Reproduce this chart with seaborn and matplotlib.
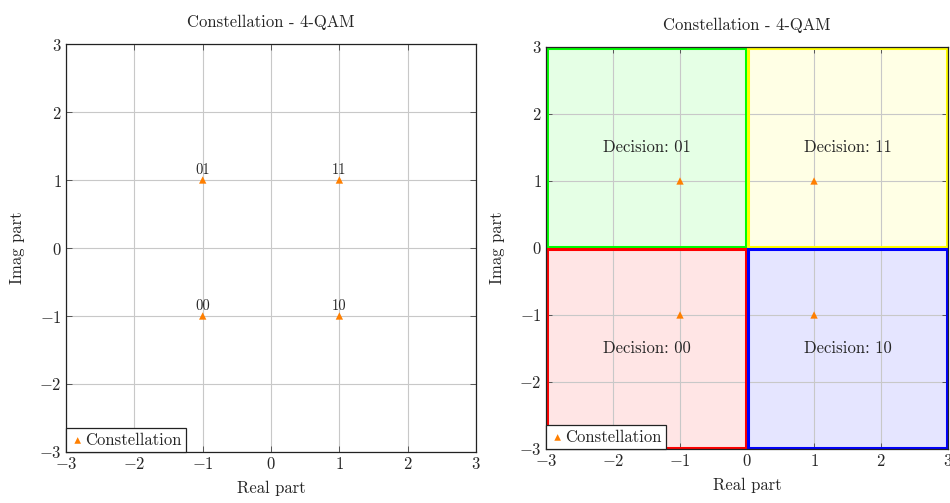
import numpy as np
import pandas as pd
import matplotlib
matplotlib.use("Agg")
import matplotlib.pyplot as plt
import seaborn as sns
from matplotlib.patches import Rectangle

# constellation points of 4-QAM
real_part = [-1, 1, -1, 1]
imag_part = [1, 1, -1, -1]
bit_labels = ["01", "11", "00", "10"]

# decision regions (lower-left corner, size 3x3)
region_x0 = [-3, 0, -3, 0]
region_y0 = [0, 0, -3, -3]
region_labels = ["Decision: 01", "Decision: 11", "Decision: 00", "Decision: 10"]
region_colors = ["#00ff00", "#ffff00", "#ff0000", "#0000ff"]
region_size = 3

axis_ticks = [-3, -2, -1, 0, 1, 2, 3]

sns.set_theme(style="white")
plt.rcParams["font.family"] = ["serif"]
plt.rcParams["font.serif"] = ["cmr10", "DejaVu Serif"]
plt.rcParams["mathtext.fontset"] = "cm"
plt.rcParams["axes.formatter.use_mathtext"] = True
plt.rcParams["axes.unicode_minus"] = True

df = pd.DataFrame({"re": real_part, "im": imag_part, "bits": bit_labels})

fig = plt.figure(figsize=(9.5, 5.03), dpi=100)
ax1 = fig.add_axes([0.0695, 0.1014, 0.4316, 0.8111])
ax2 = fig.add_axes([0.5747, 0.1074, 0.4233, 0.7992])

orange = "#ff7f00"
fs = 12


def style_axes(ax):
    ax.set_xlim(-3, 3)
    ax.set_ylim(-3, 3)
    ax.set_xticks(axis_ticks)
    ax.set_yticks(axis_ticks)
    ax.grid(True, color="#c8c8c8", linewidth=0.8, zorder=1)
    ax.set_axisbelow(False)
    ax.tick_params(direction="in", length=4, width=0.6, color="#444444",
                   labelsize=fs, top=True, right=True, bottom=True, left=True,
                   labeltop=False, labelright=False, pad=3)
    for s in ax.spines.values():
        s.set_color("#222222")
        s.set_linewidth(0.9)
        s.set_zorder(6)
    ax.set_xlabel("Real part", fontsize=fs, labelpad=6)
    ax.set_ylabel("Imag part", fontsize=fs, labelpad=10)
    ax.set_title("Constellation - 4-QAM", fontsize=fs, pad=12)


# left: plain constellation
sns.scatterplot(data=df, x="re", y="im", ax=ax1, marker="^", s=28,
                color=orange, edgecolor="none", label="Constellation", zorder=5)
for xv, yv, b in zip(real_part, imag_part, bit_labels):
    ax1.annotate(b, (xv, yv), xytext=(0, 2.5), textcoords="offset points",
                 ha="center", va="bottom", fontsize=10.5)
style_axes(ax1)

# right: with decision regions
inset = 0.02
for x0, y0, lab, col in zip(region_x0, region_y0, region_labels, region_colors):
    ax2.add_patch(Rectangle((x0, y0), region_size, region_size, facecolor=col,
                            alpha=0.1, edgecolor="none", zorder=0))
    ax2.add_patch(Rectangle((x0 + inset, y0 + inset), region_size - 2 * inset,
                            region_size - 2 * inset, facecolor="none",
                            edgecolor=col, linewidth=2.2, zorder=3))
    ax2.text(x0 + region_size / 2, y0 + region_size / 2, lab, ha="center",
             va="center", fontsize=fs, zorder=4)
sns.scatterplot(data=df, x="re", y="im", ax=ax2, marker="^", s=28,
                color=orange, edgecolor="none", label="Constellation", zorder=5)
style_axes(ax2)

for ax in (ax1, ax2):
    leg = ax.legend(loc="lower left", borderaxespad=0, fontsize=fs,
                    handletextpad=0.0, handlelength=0.9, markerscale=0.9,
                    fancybox=False, framealpha=1, borderpad=0.25)
    leg.get_frame().set_edgecolor("#222222")
    leg.get_frame().set_linewidth(0.9)
    leg.set_zorder(10)

fig.savefig("out.png", dpi=100)
